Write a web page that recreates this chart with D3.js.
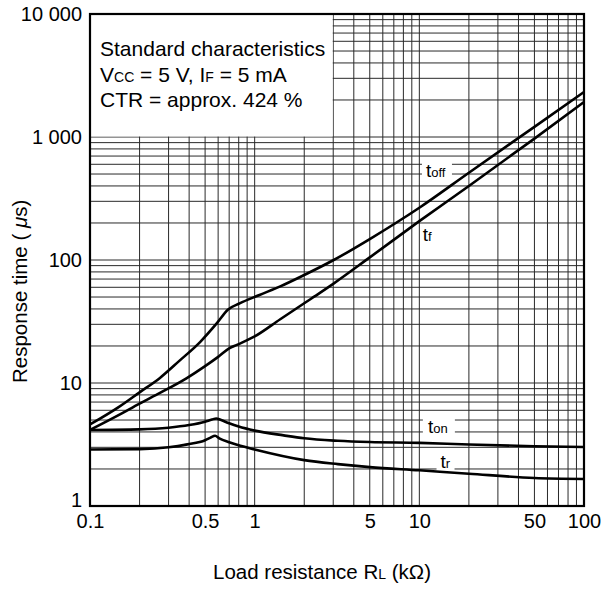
<!DOCTYPE html>
<html>
<head>
<meta charset="utf-8">
<script src="https://cdn.jsdelivr.net/npm/d3@7"></script>
<style>
  body { margin: 0; background: #fff; }
  svg text { font-family: "Liberation Sans", Arial, sans-serif; fill: #000; }
</style>
</head>
<body>
<div id="chart"></div>
<script>
// values: load resistance (kOhm) -> response time (us)
const toffR = [0.1, 0.15, 0.2, 0.266, 0.35, 0.466, 0.588, 0.69, 0.81, 1.07, 1.43, 2, 3, 5, 10, 20, 50, 100];
const toffT = [4.6, 6.4, 8.4, 11, 15.2, 21.5, 30.5, 39.6, 44.4, 52, 61, 75.5, 99.5, 148, 266, 512, 1210, 2320];

const tfR = [0.1, 0.15, 0.2, 0.266, 0.385, 0.5, 0.6, 0.7, 0.78, 1, 1.43, 2, 2.49, 3, 5, 10, 20, 50, 100];
const tfT = [4.15, 5.5, 6.8, 8.3, 10.9, 13.7, 16.3, 19.1, 20.4, 23.9, 33, 44.5, 54, 64, 105, 207, 400, 970, 1925];

const tonR = [0.1, 0.2, 0.3, 0.4, 0.5, 0.55, 0.585, 0.62, 0.7, 0.8, 1, 1.5, 2, 3.2, 5, 10, 20, 50, 100];
const tonT = [4.15, 4.2, 4.33, 4.55, 4.85, 5.05, 5.15, 5.02, 4.7, 4.42, 4.1, 3.75, 3.55, 3.39, 3.31, 3.26, 3.16, 3.06, 3.02];

const trR = [0.1, 0.2, 0.3, 0.39, 0.5, 0.54, 0.575, 0.61, 0.7, 0.79, 1, 2, 3.2, 5, 10, 20, 50, 100];
const trT = [2.88, 2.9, 3.0, 3.17, 3.42, 3.6, 3.72, 3.55, 3.3, 3.13, 2.88, 2.36, 2.19, 2.07, 1.95, 1.83, 1.69, 1.66];

const xTickValues = [0.1, 0.5, 1, 5, 10, 50, 100];
const xTickLabels = ['0.1', '0.5', '1', '5', '10', '50', '100'];
const yTickValues = [1, 10, 100, 1000, 10000];
const yTickLabels = ['1', '10', '100', '1 000', '10 000'];

const seriesNames = ['off', 'f', 'on', 'r'];

class ResponseChart {

  constructor(_config) {
    this.config = {
      parentElement: _config.parentElement,
      containerWidth: 610,
      containerHeight: 589,
      margin: {top: 14, right: 26, bottom: 83, left: 90},
      fontSize: 20
    };
    this.series = [
      {name: 'off', r: toffR, t: toffT},
      {name: 'f', r: tfR, t: tfT},
      {name: 'on', r: tonR, t: tonT},
      {name: 'r', r: trR, t: trT}
    ];
    this.initVis();
  }

  initVis() {
    let vis = this;
    const m = vis.config.margin;
    vis.width = vis.config.containerWidth - m.left - m.right;
    vis.height = vis.config.containerHeight - m.top - m.bottom;

    vis.xScale = d3.scaleLog().domain([0.1, 100]).range([0, vis.width]);
    vis.yScale = d3.scaleLog().domain([1, 10000]).range([vis.height, 0]);

    vis.svg = d3.select(vis.config.parentElement).append('svg')
        .attr('width', vis.config.containerWidth)
        .attr('height', vis.config.containerHeight);

    vis.chart = vis.svg.append('g')
        .attr('transform', `translate(${m.left},${m.top})`);

    vis.renderVis();
  }

  renderVis() {
    let vis = this;
    const fs = vis.config.fontSize;

    // grid: every 1..9 step in each decade
    const grid = vis.chart.append('g').attr('class', 'grid')
        .attr('stroke', '#2a2a2a').attr('stroke-width', 1);

    grid.selectAll('.vline')
      .data(vis.xScale.ticks())
      .join('line')
        .attr('x1', d => vis.xScale(d)).attr('x2', d => vis.xScale(d))
        .attr('y1', 0).attr('y2', vis.height);

    grid.selectAll('.hline')
      .data(vis.yScale.ticks())
      .join('line')
        .attr('y1', d => vis.yScale(d)).attr('y2', d => vis.yScale(d))
        .attr('x1', 0).attr('x2', vis.width);

    // white panel for the conditions text (top-left, up to R=3k / t=1000)
    vis.chart.append('rect')
        .attr('x', 0).attr('y', 0)
        .attr('width', vis.xScale(3) - 0.5)
        .attr('height', vis.yScale(1000) - 0.5)
        .attr('fill', '#fff');

    const info = vis.chart.append('text')
        .attr('font-size', 21);
    info.append('tspan').attr('x', 10).attr('y', 42).text('Standard characteristics');
    const l2 = info.append('tspan').attr('x', 10).attr('y', 67.5);
    l2.append('tspan').text('V');
    l2.append('tspan').attr('font-size', 14).text('CC');
    l2.append('tspan').text(' = 5 V, I');
    l2.append('tspan').attr('font-size', 14).text('F');
    l2.append('tspan').text(' = 5 mA');
    info.append('tspan').attr('x', 10).attr('y', 92.5).text('CTR = approx. 424 %');

    // curve label anchors (R, t) and the white gap each one cuts in the grid
    const labelPos = {
      off: {r: 10.97, t: 470, box: [-4, -15, 30, 21]},
      f: {r: 10.5, t: 143, box: null},
      on: {r: 11.27, t: 3.94, box: [-5, -16, 32, 23]},
      r: {r: 13.45, t: 2.03, box: [-4, -13, 18, 15]}
    };

    vis.chart.selectAll('.label-box')
      .data(seriesNames.filter(d => labelPos[d].box))
      .join('rect')
        .attr('class', 'label-box')
        .attr('x', d => vis.xScale(labelPos[d].r) + labelPos[d].box[0])
        .attr('y', d => vis.yScale(labelPos[d].t) + labelPos[d].box[1])
        .attr('width', d => labelPos[d].box[2])
        .attr('height', d => labelPos[d].box[3])
        .attr('fill', '#fff');

    // curves
    const line = d3.line()
        .x(d => vis.xScale(d[0]))
        .y(d => vis.yScale(d[1]))
        .curve(d3.curveMonotoneX);

    vis.chart.selectAll('.curve')
      .data(vis.series)
      .join('path')
        .attr('class', 'curve')
        .attr('d', d => line(d.r.map((r, i) => [r, d.t[i]])))
        .attr('fill', 'none')
        .attr('stroke', '#000')
        .attr('stroke-width', 2.6)
        .attr('stroke-linejoin', 'round');

    // curve labels
    const labels = vis.chart.selectAll('.curve-label')
      .data(seriesNames)
      .join('text')
        .attr('class', 'curve-label')
        .attr('x', d => vis.xScale(labelPos[d].r))
        .attr('y', d => vis.yScale(labelPos[d].t))
        .attr('font-size', 19);
    labels.append('tspan').text('t');
    labels.append('tspan').attr('font-size', 13).text(d => d);

    // frame
    vis.chart.append('rect')
        .attr('width', vis.width).attr('height', vis.height)
        .attr('fill', 'none').attr('stroke', '#000').attr('stroke-width', 2.2);

    // axes
    const xAxis = d3.axisBottom(vis.xScale)
        .tickValues(xTickValues)
        .tickFormat((d, i) => xTickLabels[i])
        .tickSize(0).tickPadding(8);
    const yAxis = d3.axisLeft(vis.yScale)
        .tickValues(yTickValues)
        .tickFormat((d, i) => yTickLabels[i])
        .tickSize(0).tickPadding(8);

    vis.chart.append('g')
        .attr('transform', `translate(0,${vis.height})`)
        .call(xAxis)
        .call(g => g.select('.domain').remove())
        .call(g => g.selectAll('text').attr('font-size', fs).attr('font-family', null));

    vis.chart.append('g')
        .call(yAxis)
        .call(g => g.select('.domain').remove())
        .call(g => g.selectAll('text').attr('font-size', fs).attr('font-family', null)
          .attr('dy', d => d === 1 ? '-0.0em' : '0.32em'));

    // axis titles
    const xt = vis.chart.append('text')
        .attr('x', vis.width / 2 - 15)
        .attr('y', vis.height + 73)
        .attr('text-anchor', 'middle')
        .attr('font-size', 20.5);
    xt.append('tspan').text('Load resistance R');
    xt.append('tspan').attr('font-size', 14).text('L');
    xt.append('tspan').text(' (k\u03A9)');

    const yt = vis.chart.append('text')
        .attr('transform', `translate(${-63},${vis.height - 123}) rotate(-90)`)
        .attr('text-anchor', 'start')
        .attr('font-size', 20.5);
    yt.append('tspan').text('Response time ( ');
    yt.append('tspan').attr('font-style', 'italic').text('\u03BC');
    yt.append('tspan').text('s)');
  }
}

new ResponseChart({parentElement: '#chart'});
</script>
</body>
</html>
